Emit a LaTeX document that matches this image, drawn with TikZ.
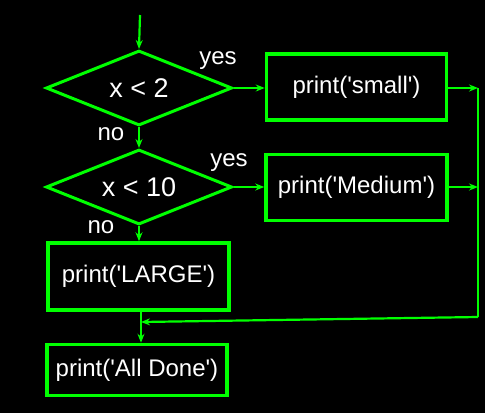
\documentclass[tikz,border=0pt]{standalone}
\usepackage{fontspec}
\setmainfont{Liberation Sans}
\usetikzlibrary{shapes.geometric,arrows.meta}
\definecolor{fgreen}{RGB}{0,255,0}
\newcommand{\sq}{\textquotesingle}
\begin{document}
\begin{tikzpicture}[x=1pt,y=-1pt,
  every node/.style={text=white,font=\fontsize{24}{28}\selectfont},
  procbox/.style={draw=fgreen,line width=3.5pt,rectangle,inner sep=0pt},
  decision/.style={draw=fgreen,line width=3pt,diamond,aspect=2.48,inner sep=0pt,minimum width=186pt,minimum height=75pt,font=\fontsize{27}{30}\selectfont},
  flow/.style={draw=fgreen,line width=2.2pt,-{Stealth[length=9pt,width=7pt]}},
  plain/.style={draw=fgreen,line width=2.2pt},
  lbl/.style={inner sep=0pt}]
\fill[black] (0,0) rectangle (485,413);
\useasboundingbox (0,0) rectangle (485,413);
\coordinate (start) at (140,15);
\node[decision] (d1) at (139,88) {x < 2};
\node[decision] (d2) at (139,187) {x < 10};
\node[procbox,minimum width=180pt,minimum height=66pt] (small) at (356.5,87) {print(\sq small\sq)};
\node[procbox,minimum width=181pt,minimum height=66pt] (medium) at (356.5,187.5) {print(\sq Medium\sq)};
\node[procbox,minimum width=181pt,minimum height=67pt] (large) at (138.5,276.5) {print(\sq LARGE\sq)};
\node[procbox,minimum width=180pt,minimum height=51pt] (done) at (137,370) {print(\sq All Done\sq)};
\node[lbl] (yes1) at (218,61) {yes};
\node[lbl] (yes2) at (229,163) {yes};
\node[lbl] (no1) at (111,134) {no};
\node[lbl] (no2) at (101,227) {no};
\coordinate (c1) at (478,88);
\coordinate (c2) at (478,187);
\coordinate (c3) at (478,317);
\coordinate (c4) at (141,322);
\draw[flow] (start) -- (d1.north);
\draw[flow] (d1.east) -- (small.west |- d1.east);
\draw[flow] (d1.south) -- (d2.north);
\draw[flow] (d2.east) -- (medium.west |- d2.east);
\draw[flow] (d2.south) -- (large.north -| d2.south);
\draw[flow] (large.south -| c4) -- (done.north -| c4);
\draw[flow] (small.east |- c1) -- (c1);
\draw[flow] (medium.east |- c2) -- (c2);
\draw[plain] (c1) -- (c3);
\draw[flow] (c3) -- (c4);
\end{tikzpicture}
\end{document}
